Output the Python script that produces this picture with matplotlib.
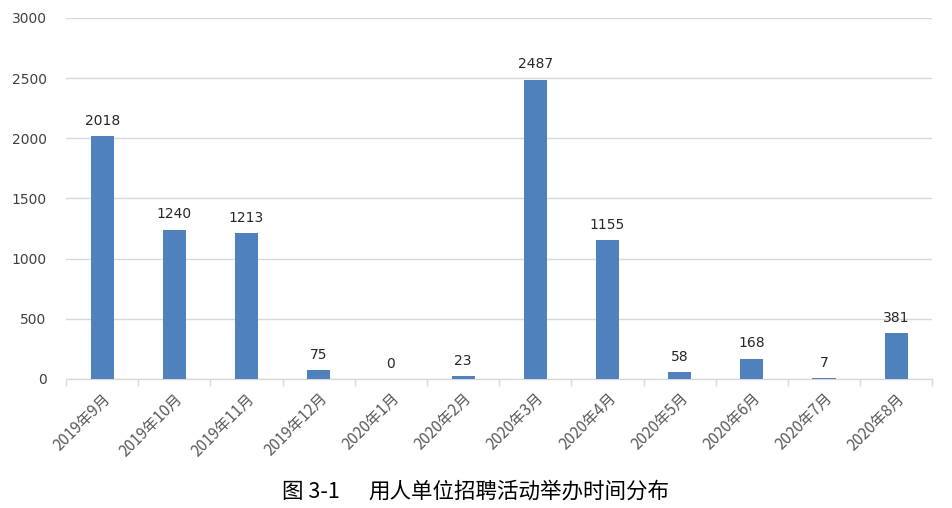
import numpy as np
import matplotlib
matplotlib.use("Agg")
import matplotlib.pyplot as plt

plt.rcParams['font.family'] = ['Noto Sans CJK SC', 'DejaVu Sans']

months = ["2019年9月", "2019年10月", "2019年11月", "2019年12月", "2020年1月", "2020年2月",
          "2020年3月", "2020年4月", "2020年5月", "2020年6月", "2020年7月", "2020年8月"]
counts = [2018, 1240, 1213, 75, 0, 23, 2487, 1155, 58, 168, 7, 381]
yticks = [0, 500, 1000, 1500, 2000, 2500, 3000]

fig = plt.figure(figsize=(9.53, 5.08), dpi=100)
ax = fig.add_axes([0.0693, 0.254, 0.909, 0.7106])

x = np.arange(len(months))
bars = ax.bar(x, counts, width=0.32, color="#4F81BD", zorder=3)

for xi, v in zip(x, counts):
    ax.text(xi, v + 70, str(v), ha="center", va="bottom", fontsize=10,
            color="#262626", family=["DejaVu Sans"])

ax.set_xlim(-0.5, len(months) - 0.5)
ax.set_ylim(0, 3000)
ax.set_yticks(yticks)
ax.set_yticklabels([str(t) for t in yticks], fontsize=10, color="#404040",
                   family=["DejaVu Sans"])
ax.yaxis.grid(True, color="#d9d9d9", linewidth=1, zorder=0)
ax.tick_params(axis="y", length=0, pad=14)

ax.set_xticks(x)
ax.set_xticklabels(months, rotation=45, ha="right", rotation_mode="anchor",
                   fontsize=11, color="#595959")
ax.set_xticks(np.arange(-0.5, len(months)), minor=True)
ax.tick_params(axis="x", which="major", length=0, pad=8)
ax.tick_params(axis="x", which="minor", length=5, color="#d9d9d9", width=1)

for s in ["top", "right", "left"]:
    ax.spines[s].set_visible(False)
ax.spines["bottom"].set_color("#d9d9d9")
ax.spines["bottom"].set_linewidth(1)

fig.text(282 / 953, 0.032, "图 3-1", ha="left", va="center",
         fontsize=15.5, color="#000000")
fig.text(368 / 953, 0.032, "用人单位招聘活动举办时间分布", ha="left", va="center",
         fontsize=15.5, color="#000000")

fig.savefig("out.png", dpi=100)
